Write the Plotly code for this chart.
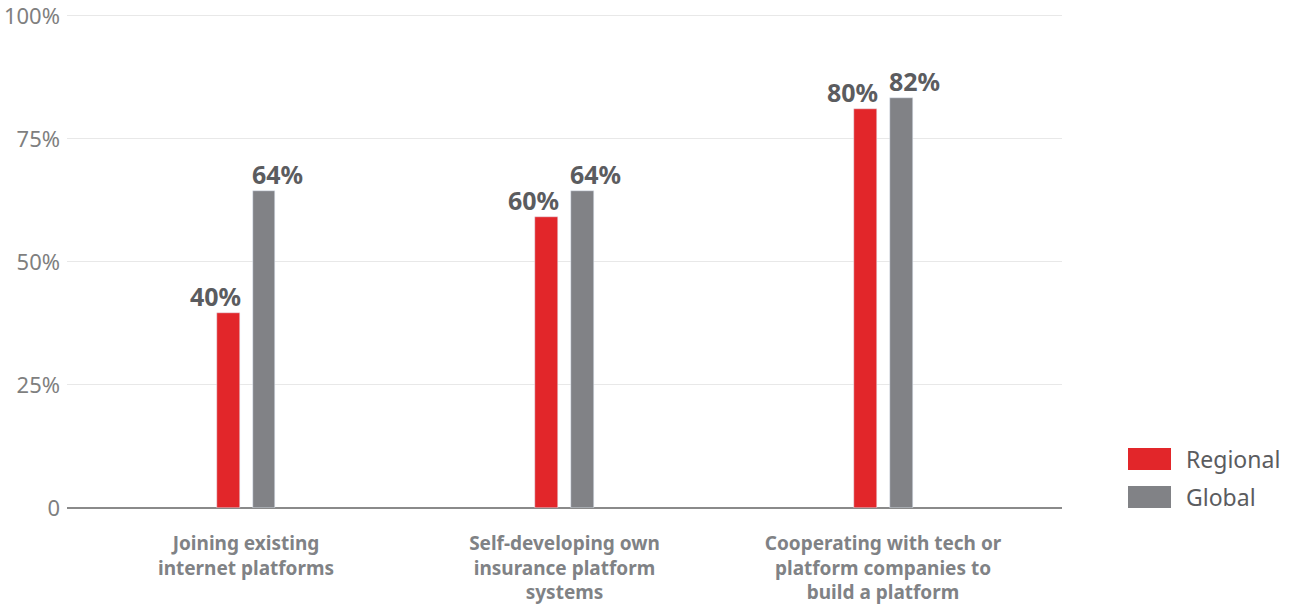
import plotly.graph_objects as go

categories = [
    "Joining existing<br>internet platforms",
    "Self-developing own<br>insurance platform<br>systems",
    "Cooperating with tech or<br>platform companies to<br>build a platform",
]
regional = [39.6, 59.1, 81.0]
global_vals = [64.4, 64.4, 83.3]
regional_labels = ["40%", "60%", "80%"]
global_labels = ["64%", "64%", "82%"]
series_names = ["Regional", "Global"]
y_ticks = [0, 25, 50, 75, 100]
y_tick_labels = ["0", "25%", "50%", "75%", "100%"]

RED = "#e2262a"
GRAY = "#818286"
FONT = "Noto Sans"
BAR_W = 0.0722
OFF_R = -0.0917
OFF_G = 0.0204

xs = list(range(len(categories)))

fig = go.Figure()
fig.add_trace(go.Bar(x=xs, y=regional, name=series_names[0], marker_color=RED,
                     width=BAR_W, offset=OFF_R, showlegend=False, hoverinfo="y"))
fig.add_trace(go.Bar(x=xs, y=global_vals, name=series_names[1], marker_color=GRAY,
                     width=BAR_W, offset=OFF_G, showlegend=False, hoverinfo="y"))

annotations = []
for i in xs:
    annotations.append(dict(x=i + OFF_R + BAR_W, y=regional[i], text=regional_labels[i],
                            xref="x", yref="y", xanchor="right", yanchor="bottom",
                            showarrow=False, xshift=3, yshift=-2,
                            font=dict(family=FONT, size=25, color="#5b5c5f", weight="bold")))
    annotations.append(dict(x=i + OFF_G, y=global_vals[i], text=global_labels[i],
                            xref="x", yref="y", xanchor="left", yanchor="bottom",
                            showarrow=False, xshift=-3, yshift=-2,
                            font=dict(family=FONT, size=25, color="#5b5c5f", weight="bold")))

# custom legend (paper coordinates of the plot area: x 67..1062, y 11..508 on the page)
PX0, PX1, PY0, PY1 = 67, 1062, 11, 508
legend_items = [(series_names[0], RED, 0), (series_names[1], GRAY, 1)]
shapes = []
for name, col, k in legend_items:
    y0 = 448 + k * 38
    shapes.append(dict(type="rect", xref="paper", yref="paper",
                       x0=(1128 - PX0) / (PX1 - PX0), x1=(1171 - PX0) / (PX1 - PX0),
                       y0=(PY1 - (y0 + 22)) / (PY1 - PY0), y1=(PY1 - y0) / (PY1 - PY0),
                       fillcolor=col, line=dict(width=0)))
    annotations.append(dict(x=(1184 - PX0) / (PX1 - PX0), y=(PY1 - (y0 + 11)) / (PY1 - PY0),
                            text=name, xref="paper", yref="paper",
                            xanchor="left", yanchor="middle", showarrow=False,
                            font=dict(family=FONT, size=23, color="#5b5c5f")))

fig.update_layout(
    width=1292, height=608,
    margin=dict(l=PX0, r=1292 - PX1, t=PY0, b=608 - PY1),
    plot_bgcolor="white", paper_bgcolor="white",
    font=dict(family=FONT),
    annotations=annotations, shapes=shapes,
    bargap=0,
)
fig.update_xaxes(
    range=[-0.562, 2.562], tickvals=xs, ticktext=categories,
    showgrid=False, zeroline=False, showline=False, ticks="",
    tickfont=dict(family=FONT, size=19, color="#808285", weight="bold"),
    ticklabelstandoff=22, automargin=False,
)
fig.update_yaxes(
    range=[0, 101], tickvals=y_ticks, ticktext=y_tick_labels,
    showgrid=True, gridcolor="#e8e8e8", gridwidth=1,
    zeroline=True, zerolinecolor="#8a8a8a", zerolinewidth=1.5,
    showline=False, ticks="",
    tickfont=dict(family=FONT, size=22, color="#7f7f7f"),
    ticklabelstandoff=6, automargin=False, ticklabeloverflow="allow",
)

# remove the browser's default 8px body margin so the figure fills the window
fig.write_html("out.html", config={"displayModeBar": False},
               post_script="document.body.style.margin='0';")
